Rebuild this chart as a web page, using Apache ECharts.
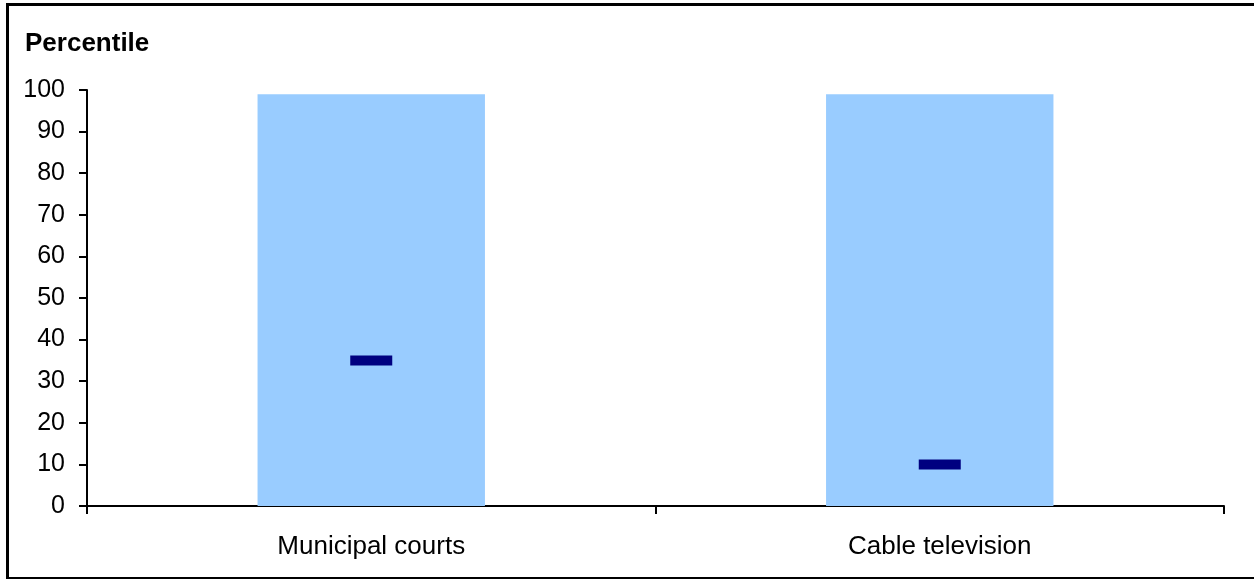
<!DOCTYPE html>
<html>
<head>
<meta charset="utf-8">
<script src="https://cdn.jsdelivr.net/npm/echarts@6/dist/echarts.min.js"></script>
<style>
  html, body { margin: 0; padding: 0; background: #fff; overflow: hidden; }
  #frame { position: absolute; left: 6px; top: 3px; width: 1260px; height: 571px;
           border: 3px solid #000; border-bottom-width: 2px; }
  #chart { position: absolute; left: 0; top: 0; width: 1254px; height: 579px; }
</style>
</head>
<body>
<div id="frame"></div>
<div id="chart"></div>
<script>
// Categories and values
const categories = ['Municipal courts', 'Cable television'];
const rangeTop = [99, 99];        // shaded percentile band (0 to top)
const markerValues = [35, 10];    // current percentile marker
const yTicks = { min: 0, max: 100, interval: 10 };

const chart = echarts.init(document.getElementById('chart'));
const font = 'Liberation Sans, Arial, sans-serif';

chart.setOption({
  animation: false,
  title: {
    text: 'Percentile',
    left: 20, top: 26,
    textStyle: { fontFamily: font, fontSize: 26, fontWeight: 'bold', color: '#000' }
  },
  grid: { left: 87, right: 30, top: 90, bottom: 73, containLabel: false },
  xAxis: {
    type: 'category',
    data: categories,
    boundaryGap: true,
    axisLine: { lineStyle: { color: '#000', width: 2 } },
    axisTick: { show: true, length: 8, lineStyle: { color: '#000', width: 2 } },
    axisLabel: { fontFamily: font, fontSize: 26, color: '#000', margin: 28 }
  },
  yAxis: {
    type: 'value',
    min: yTicks.min, max: yTicks.max, interval: yTicks.interval,
    splitLine: { show: false },
    axisLine: { show: true, lineStyle: { color: '#000', width: 2 } },
    axisTick: { show: true, length: 8, lineStyle: { color: '#000', width: 2 } },
    axisLabel: { fontFamily: font, fontSize: 25, color: '#000', margin: 22 }
  },
  series: [
    {
      type: 'bar',
      data: rangeTop,
      barWidth: '40%',
      itemStyle: { color: '#99CCFF' },
      z: 1
    },
    {
      type: 'scatter',
      data: markerValues,
      symbol: 'rect',
      symbolSize: [42, 10],
      itemStyle: { color: '#000080', opacity: 1 },
      z: 3
    }
  ]
});
</script>
</body>
</html>
